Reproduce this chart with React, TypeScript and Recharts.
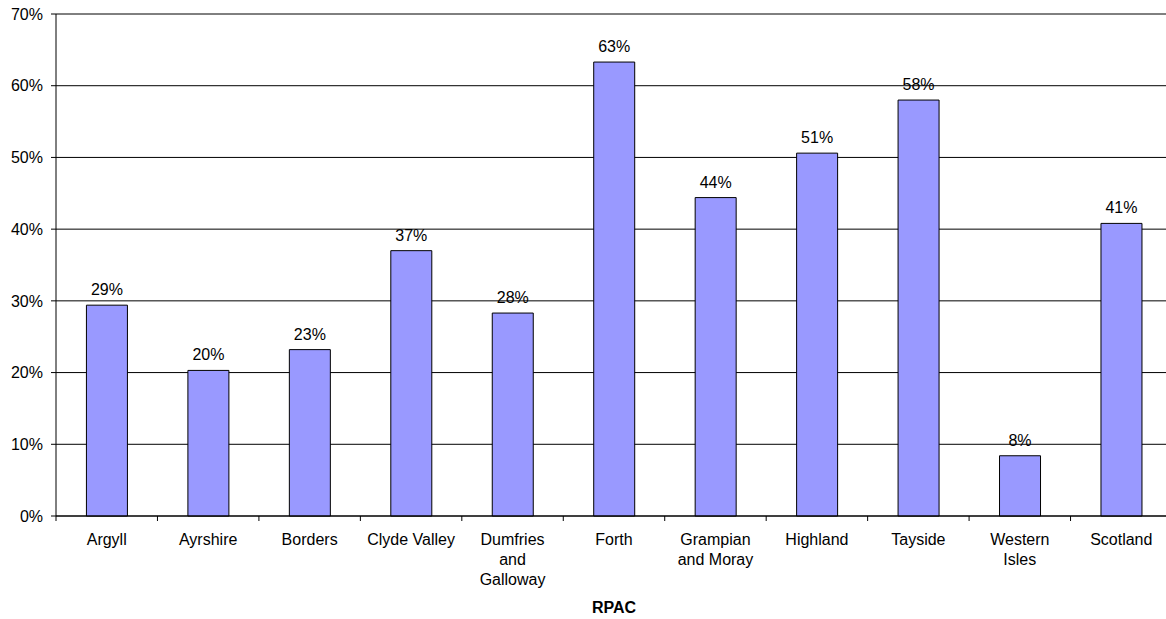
import { BarChart, Bar, XAxis, YAxis, CartesianGrid, LabelList } from "recharts";

const CATEGORIES = ["Argyll", "Ayrshire", "Borders", "Clyde Valley", "Dumfries and Galloway", "Forth", "Grampian and Moray", "Highland", "Tayside", "Western Isles", "Scotland"];
const TICK_LINES = [["Argyll"], ["Ayrshire"], ["Borders"], ["Clyde Valley"], ["Dumfries", "and", "Galloway"], ["Forth"], ["Grampian", "and Moray"], ["Highland"], ["Tayside"], ["Western", "Isles"], ["Scotland"]];
const VALUES = [29.4, 20.3, 23.2, 37.0, 28.3, 63.3, 44.4, 50.6, 58.0, 8.4, 40.8];
const Y_TICKS = [0, 10, 20, 30, 40, 50, 60, 70];

const data = CATEGORIES.map((c, i) => ({ name: c, value: VALUES[i] }));

const W = 1180;
const H = 619;
const MARGIN = { top: 14, right: 8, left: 0, bottom: 0 };
const YAXIS_W = 56;
const STEP = (W - MARGIN.right - MARGIN.left - YAXIS_W) / CATEGORIES.length;
const FONT = "Arial, 'Liberation Sans', sans-serif";

function CatTick(props: any) {
  const { x, y, index } = props;
  const lines = TICK_LINES[index] || [];
  return (
    <g>
      <line x1={x - STEP / 2} x2={x - STEP / 2} y1={y} y2={y + 5} stroke="#000" />
      {index === CATEGORIES.length - 1 && <line x1={x + STEP / 2} x2={x + STEP / 2} y1={y} y2={y + 5} stroke="#000" />}
      {lines.map((l: string, i: number) => (
        <text key={i} x={x} y={y + 29 + i * 20} textAnchor="middle" fontSize={16} fontFamily={FONT} fill="#000">{l}</text>
      ))}
    </g>
  );
}

export default function App() {
  return (
    <div style={{ position: "absolute", left: 0, top: 0, width: 1166, height: 619, overflow: "hidden", background: "#fff" }}>
      <BarChart width={W} height={H} data={data} margin={MARGIN} barCategoryGap="30%" style={{ fontFamily: FONT }}>
        <CartesianGrid vertical={false} stroke="#000" />
        <XAxis dataKey="name" interval={0} height={103} tickSize={0} tickMargin={0} tickLine={false} stroke="#000" tick={<CatTick />}
          label={{ value: "RPAC", position: "insideBottom", offset: 6, fontWeight: "bold", fill: "#000", fontSize: 16, fontFamily: FONT }} />
        <YAxis width={YAXIS_W} domain={[0, 70]} ticks={Y_TICKS} interval={0} tickSize={5} tickMargin={8} stroke="#000"
          tick={{ fill: "#000", fontSize: 16, fontFamily: FONT }} tickFormatter={(v) => `${v}%`} />
        <Bar dataKey="value" fill="#9999FF" stroke="#000" strokeWidth={1} isAnimationActive={false}>
          <LabelList dataKey="value" position="top" offset={10} fill="#000" fontSize={16} fontFamily={FONT} formatter={(v: any) => `${Math.round(Number(v))}%`} />
        </Bar>
      </BarChart>
    </div>
  );
}
